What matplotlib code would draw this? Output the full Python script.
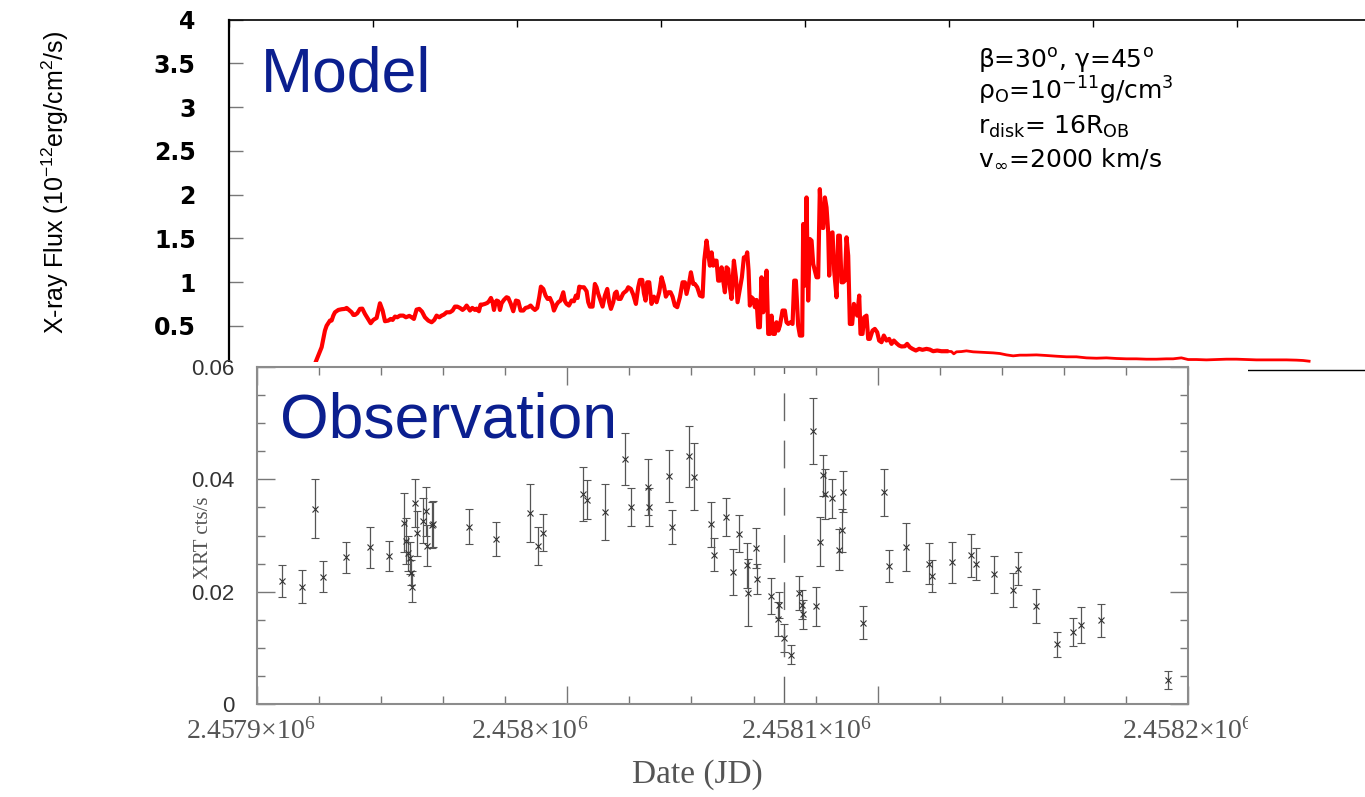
import matplotlib
matplotlib.use("Agg")
import matplotlib.pyplot as plt
from matplotlib.patches import Rectangle
from matplotlib.ticker import MultipleLocator
from matplotlib.transforms import Bbox, TransformedBbox, blended_transform_factory

plt.rcParams['mathtext.default'] = 'regular'

# ---- model light curve (top panel): time in days, flux in 1e-12 erg/cm2/s
model_t = [
    11.60, 11.94, 12.41, 12.87, 13.33, 13.56, 14.03, 14.26, 14.49, 14.72,
    15.19, 15.65, 16.11, 16.34, 16.67, 17.04, 17.27, 17.50, 17.82, 18.19,
    18.52, 18.89, 19.26, 19.68, 20.05, 20.51, 20.97, 21.34, 21.67, 22.13,
    22.45, 22.73, 23.06, 23.38, 23.75, 24.21, 24.58, 25.05, 25.37, 25.69,
    26.06, 26.44, 26.81, 27.22, 27.69, 28.15, 28.52, 28.84, 29.21, 29.54,
    29.86, 30.23, 30.69, 31.06, 31.39, 31.71, 32.08, 32.45, 32.78, 33.01,
    33.24, 33.47, 33.80, 34.17, 34.40, 34.72, 34.95, 35.23, 35.56, 35.88,
    36.11, 36.39, 36.62, 36.81, 37.04, 37.18, 37.41, 37.64, 37.87, 38.19,
    38.56, 38.80, 39.12, 39.49, 39.86, 40.19, 40.51, 40.88, 41.20, 41.57,
    41.90, 42.18, 42.50, 42.82, 43.10, 43.33, 43.66, 43.98, 44.26, 44.58,
    44.91, 45.14, 45.51, 45.74, 46.06, 46.44, 46.67, 46.90, 47.22, 47.59,
    47.92, 48.19, 48.43, 48.66, 48.98, 49.31, 49.68, 49.91, 50.14, 50.51,
    50.83, 51.06, 51.30, 51.62, 51.90, 52.22, 52.55, 52.82, 53.06, 53.38,
    53.61, 53.84, 54.07, 54.40, 54.77, 55.23, 55.46, 55.83, 56.16, 56.53,
    56.85, 57.08, 57.41, 57.64, 57.87, 58.10, 58.38, 58.70, 59.03, 59.40,
    59.77, 60.09, 60.42, 60.69, 61.02, 61.34, 61.62, 61.94, 62.27, 62.64,
    63.01, 63.33, 63.56, 63.94, 64.17, 64.49, 64.72, 65.05, 65.42, 65.79,
    66.02, 66.34, 66.57, 66.81, 67.04, 67.27, 67.50, 67.73, 67.96, 68.19,
    68.43, 68.66, 68.89, 69.12, 69.35, 69.58, 69.81, 70.14, 70.42, 70.65,
    70.97, 71.25, 71.53, 71.81, 71.99, 72.18, 72.36, 72.59, 72.82, 73.06,
    73.29, 73.52, 73.75, 73.98, 74.21, 74.44, 74.68, 74.91, 75.14, 75.37,
    75.60, 75.83, 76.06, 76.30, 76.53, 76.90, 77.22, 77.45, 77.69, 78.01,
    78.29, 78.52, 78.75, 79.07, 79.31, 79.63, 79.77, 80.00, 80.23, 80.46,
    80.69, 80.93, 81.16, 81.39, 81.62, 81.85, 82.08, 82.31, 82.55, 82.78,
    83.01, 83.24, 83.38, 83.61, 83.84, 84.07, 84.40, 84.63, 84.86, 85.09,
    85.32, 85.56, 85.79, 86.02, 86.25, 86.57, 86.81, 87.08, 87.27, 87.55,
    87.73, 88.01, 88.24, 88.56, 88.80, 89.03, 89.40, 89.72, 90.05, 90.32,
    90.65, 90.97, 91.34, 91.71, 92.04, 92.36, 92.73, 93.10, 93.43, 93.89,
    94.21, 94.58, 94.95, 95.42, 95.88, 96.34, 96.90, 97.36, 97.82, 98.38,
    98.98, 99.68, 100.37, 100.69, 101.06, 101.76, 102.45, 103.38, 104.31, 105.23,
    106.16, 107.08, 108.01, 108.94, 109.86, 110.79, 112.18, 113.56, 114.95, 116.34,
    117.73, 119.12, 120.51, 121.90, 123.29, 124.68, 126.06, 127.45, 128.84, 130.23,
    131.16, 132.31, 133.24, 134.40, 135.79, 137.18, 138.56, 139.95, 141.34, 142.73,
    144.12, 145.51, 146.90, 148.29, 149.21, 150.05,
]
model_flux = [
    0.000, 0.065, 0.160, 0.255, 0.445, 0.500, 0.560, 0.560, 0.616, 0.654,
    0.681, 0.689, 0.693, 0.704, 0.681, 0.654, 0.624, 0.624, 0.643, 0.693,
    0.696, 0.635, 0.586, 0.529, 0.567, 0.590, 0.757, 0.674, 0.552, 0.559,
    0.578, 0.567, 0.605, 0.597, 0.616, 0.616, 0.597, 0.613, 0.597, 0.578,
    0.685, 0.693, 0.662, 0.597, 0.559, 0.540, 0.567, 0.616, 0.597, 0.616,
    0.628, 0.654, 0.654, 0.674, 0.719, 0.719, 0.704, 0.681, 0.704, 0.731,
    0.704, 0.674, 0.704, 0.681, 0.696, 0.666, 0.742, 0.742, 0.750, 0.761,
    0.780, 0.818, 0.769, 0.681, 0.769, 0.788, 0.780, 0.681, 0.757, 0.795,
    0.826, 0.818, 0.757, 0.666, 0.788, 0.780, 0.674, 0.674, 0.704, 0.712,
    0.731, 0.704, 0.681, 0.704, 0.826, 0.947, 0.921, 0.845, 0.807, 0.818,
    0.757, 0.674, 0.742, 0.769, 0.788, 0.883, 0.780, 0.750, 0.731, 0.788,
    0.780, 0.845, 0.818, 0.947, 0.940, 0.940, 0.894, 0.769, 0.719, 0.719,
    0.978, 0.940, 0.864, 0.788, 0.719, 0.845, 0.921, 0.769, 0.693, 0.769,
    0.871, 0.890, 0.807, 0.807, 0.871, 0.902, 0.940, 0.921, 0.856, 0.750,
    0.940, 1.024, 1.024, 0.871, 0.788, 0.997, 0.997, 0.750, 0.833, 0.769,
    0.883, 1.054, 0.959, 0.833, 0.883, 0.883, 0.833, 0.731, 0.712, 0.826,
    0.997, 0.997, 0.864, 0.997, 1.111, 0.978, 0.978, 0.940, 0.845, 0.833,
    1.244, 1.473, 1.328, 1.187, 1.339, 1.187, 1.244, 1.244, 1.016, 1.016,
    1.168, 1.016, 0.883, 1.168, 1.149, 0.940, 0.807, 1.244, 1.054, 0.769,
    0.921, 1.054, 1.282, 1.275, 1.339, 1.130, 0.731, 0.826, 0.807, 0.712,
    0.795, 0.483, 0.483, 1.054, 0.654, 0.750, 1.130, 0.407, 0.407, 0.616,
    0.407, 0.407, 0.540, 0.445, 0.502, 0.674, 0.674, 0.540, 0.521, 0.540,
    0.521, 1.016, 1.016, 0.502, 0.388, 0.388, 1.663, 0.959, 1.967, 0.788,
    1.492, 1.473, 1.206, 1.130, 1.054, 1.054, 2.062, 1.625, 1.617, 1.967,
    1.853, 1.568, 1.073, 1.549, 1.568, 1.130, 0.826, 1.530, 1.530, 0.997,
    0.997, 1.016, 1.511, 1.301, 0.521, 0.521, 0.750, 0.674, 0.616, 0.845,
    0.407, 0.407, 0.597, 0.616, 0.350, 0.350, 0.445, 0.464, 0.426, 0.331,
    0.312, 0.388, 0.331, 0.350, 0.293, 0.331, 0.300, 0.274, 0.263, 0.266,
    0.293, 0.255, 0.236, 0.217, 0.236, 0.225, 0.236, 0.228, 0.209, 0.217,
    0.209, 0.209, 0.205, 0.179, 0.202, 0.205, 0.213, 0.202, 0.198, 0.194,
    0.190, 0.183, 0.167, 0.156, 0.164, 0.164, 0.167, 0.160, 0.152, 0.145,
    0.145, 0.133, 0.129, 0.133, 0.126, 0.122, 0.122, 0.118, 0.118, 0.122,
    0.122, 0.133, 0.114, 0.114, 0.110, 0.114, 0.118, 0.118, 0.114, 0.110,
    0.110, 0.110, 0.110, 0.107, 0.103, 0.095,
]
assert len(model_t) == len(model_flux)

model_yticks = [0, 0.5, 1, 1.5, 2, 2.5, 3, 3.5, 4]
model_ylabels = ['', '0.5', '1', '1.5', '2', '2.5', '3', '3.5', '4']

# ---- Swift XRT observations (bottom panel): days after JD 2457900
jd_base = 2457900
obs_day = [
    8.2, 14.5, 18.7, 21.4, 28.6, 36.3, 42.5, 47.5, 48.0, 48.6,
    49.2, 49.6, 49.8, 51.0, 51.7, 53.6, 54.4, 54.8, 56.3, 56.8,
    68.2, 77.0, 88.0, 90.5, 92.0, 105.2, 106.2, 112.0, 118.6, 120.4,
    126.1, 126.4, 132.6, 133.6, 139.3, 140.8, 146.3, 147.4, 151.1, 153.3,
    155.2, 157.8, 158.1, 160.8, 161.2, 165.6, 167.8, 168.3, 169.9, 172.1,
    174.7, 175.5, 176.0, 179.1, 180.1, 181.4, 182.3, 183.0, 185.2, 187.6,
    188.6, 188.9, 195.4, 202.2, 203.6, 209.2, 216.6, 217.4, 223.9, 230.1,
    231.7, 237.6, 243.7, 245.3, 251.0, 257.9, 262.9, 265.5, 272.0, 293.7,
]
obs_rate = [
    0.0219, 0.0209, 0.0348, 0.0227, 0.0261, 0.0279, 0.0264, 0.0323, 0.0291, 0.0268,
    0.0260, 0.0234, 0.0209, 0.0358, 0.0304, 0.0326, 0.0343, 0.0282, 0.0318, 0.0320,
    0.0316, 0.0294, 0.0340, 0.0282, 0.0305, 0.0374, 0.0364, 0.0342, 0.0436, 0.0351,
    0.0387, 0.0351, 0.0406, 0.0315, 0.0441, 0.0405, 0.0320, 0.0266, 0.0333, 0.0235,
    0.0303, 0.0247, 0.0198, 0.0278, 0.0222, 0.0193, 0.0151, 0.0177, 0.0117, 0.0088,
    0.0198, 0.0177, 0.0160, 0.0486, 0.0174, 0.0289, 0.0407, 0.0374, 0.0366, 0.0275,
    0.0309, 0.0378, 0.0145, 0.0377, 0.0246, 0.0280, 0.0250, 0.0228, 0.0252, 0.0265,
    0.0249, 0.0231, 0.0203, 0.0241, 0.0174, 0.0106, 0.0128, 0.0141, 0.0149, 0.0042,
]
obs_err = [
    0.0029, 0.0030, 0.0052, 0.0028, 0.0027, 0.0037, 0.0027, 0.0052, 0.0041, 0.0032,
    0.0029, 0.0022, 0.0028, 0.0043, 0.0040, 0.0040, 0.0044, 0.0037, 0.0041, 0.0041,
    0.0032, 0.0030, 0.0052, 0.0034, 0.0033, 0.0048, 0.0035, 0.0050, 0.0046, 0.0034,
    0.0050, 0.0034, 0.0047, 0.0031, 0.0054, 0.0060, 0.0040, 0.0030, 0.0034, 0.0041,
    0.0033, 0.0040, 0.0060, 0.0035, 0.0027, 0.0032, 0.0030, 0.0023, 0.0025, 0.0017,
    0.0030, 0.0026, 0.0026, 0.0058, 0.0035, 0.0044, 0.0037, 0.0044, 0.0034, 0.0037,
    0.0039, 0.0036, 0.0030, 0.0042, 0.0029, 0.0043, 0.0037, 0.0029, 0.0036, 0.0038,
    0.0028, 0.0033, 0.0030, 0.0030, 0.0030, 0.0022, 0.0025, 0.0032, 0.0029, 0.0016,
]
assert len(obs_day) == len(obs_rate) == len(obs_err)
periastron_jd = 2458069.7

xlabel_jd = [2457898, 2457988, 2458077, 2458200]
xlabel_txt = ["2.4579×10$^6$", "2.458×10$^6$", "2.4581×10$^6$", "2.4582×10$^6$"]
obs_yticks = [0, 0.02, 0.04, 0.06]
obs_ylabels = ["0", "0.02", "0.04", "0.06"]

params = [
    "β=30$^o$, γ=45$^o$",
    "ρ$_O$=10$^{-11}$g/cm$^3$",
    "r$_{disk}$= 16R$_{OB}$",
    "v$_\\infty$=2000 km/s",
]

W, H = 1365, 797
NAVY = '#0b1f8f'


def px_rect(x0, y0, x1, y1):
    # pixel box (left, top, right, bottom) -> figure fraction rect
    return [x0 / W, 1 - y1 / H, (x1 - x0) / W, (y1 - y0) / H]


fig = plt.figure(figsize=(W / 100, H / 100), dpi=100)

# ------------------------------------------------------------------ model
ax = fig.add_axes(px_rect(229, 19.6, 1380, 369.5))
ax.set_zorder(1)
n_head = sum(1 for t in model_t if t <= 100)
ax.plot(model_t[n_head - 1:], model_flux[n_head - 1:], color='#ff0000', lw=2.0)
ax.plot(model_t[:n_head], model_flux[:n_head], color='#ff0000', lw=3.0)
ax.set_xlim(0, 159.9)
ax.set_ylim(0, 4)
ax.set_yticks(model_yticks)
ax.set_yticklabels(model_ylabels)
ax.xaxis.set_major_locator(MultipleLocator(20))
ax.tick_params(axis='x', which='both', direction='in', top=True, bottom=False,
               labelbottom=False, length=5, width=1, color='k')
ax.tick_params(axis='y', direction='in', length=10, width=1, color='#777777',
               pad=24, labelsize=17)
for lab in ax.get_yticklabels():
    lab.set_fontweight('bold')
    lab.set_family('DejaVu Sans')
ax.spines['left'].set_linewidth(1.6)
ax.spines['top'].set_linewidth(1.2)
ax.spines['bottom'].set_linewidth(1.0)
ax.spines['right'].set_visible(False)

fig.text(55 / W, 1 - 182 / H, "X-ray Flux (10$^{-12}$erg/cm$^2$/s)", rotation=90,
         ha='center', va='center', fontsize=18, family='Liberation Sans')
fig.text(261 / W, 1 - 92 / H, "Model", fontsize=45, color=NAVY,
         family='Liberation Sans', va='baseline', ha='left')
for line, base in zip(params, [68, 100, 134, 166]):
    fig.text(978 / W, 1 - base / H, line, fontsize=18, family='DejaVu Sans',
             va='baseline', ha='left')

# white backing of the pasted observation plot
fig.add_artist(Rectangle((183 / W, 0), (1248 - 183) / W, 1 - 362 / H,
                         transform=fig.transFigure, facecolor='white',
                         edgecolor='none', zorder=2))

# ------------------------------------------------------------ observation
ax2 = fig.add_axes(px_rect(257, 367, 1188, 704))
ax2.set_zorder(3)
obs_jd = [jd_base + d for d in obs_day]
ax2.errorbar(obs_jd, obs_rate, yerr=obs_err, fmt='x', color='#333333',
             ecolor='#555555', elinewidth=0.9, capsize=3, capthick=0.9,
             markersize=4, mew=0.8)
ax2.axvline(periastron_jd, color='#666666', lw=1.0, dashes=(20, 14))
ax2.set_xlim(2457900, 2458200)
ax2.set_ylim(0, 0.06)
ax2.xaxis.set_major_locator(MultipleLocator(100))
ax2.xaxis.set_minor_locator(MultipleLocator(20))
ax2.set_yticks(obs_yticks)
ax2.set_yticklabels(obs_ylabels)
ax2.yaxis.set_minor_locator(MultipleLocator(0.005))
ax2.tick_params(which='both', direction='in', top=True, right=True,
                color='#777777', width=1, labelbottom=False,
                labelcolor='#333333', labelsize=16, pad=16)
ax2.tick_params(which='major', length=13)
ax2.tick_params(which='minor', length=6)
for lab in ax2.get_yticklabels():
    lab.set_family('Liberation Sans')
for sp in ax2.spines.values():
    sp.set_color('#8c8c8c')
    sp.set_linewidth(1.5)

trans = blended_transform_factory(ax2.transData, ax2.transAxes)
clip = TransformedBbox(Bbox([[0, 0], [1248 / W, 1]]), fig.transFigure)
for pos, txt in zip(xlabel_jd, xlabel_txt):
    t = ax2.text(pos, -0.08, txt, transform=trans, ha='center', va='center',
                 fontsize=20, color='#555555', family='Liberation Serif')
    t.set_clip_box(clip)
    t.set_clip_on(True)

fig.text(697 / W, 1 - 775 / H, "Date (JD)", ha='center', va='center',
         fontsize=24, color='#555555', family='Liberation Serif', zorder=5)
fig.text(203 / W, 1 - 538 / H, "XRT cts/s", rotation=90, ha='center',
         va='center', fontsize=15, color='#555555', family='Liberation Serif',
         zorder=5)
fig.text(280 / W, 1 - 437 / H, "Observation", fontsize=45, color=NAVY,
         family='Liberation Sans', va='baseline', ha='left', zorder=5)

fig.savefig("out.png", dpi=100)
